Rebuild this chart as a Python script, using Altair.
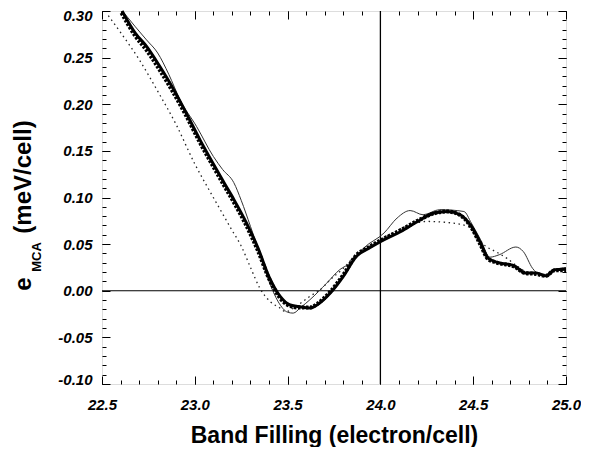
import altair as alt
import pandas as pd

# ---- data ----
thick_x = [22.608, 22.68, 22.74, 22.81, 22.88, 22.95, 23.03, 23.10, 23.16, 23.21, 23.28, 23.34,
           23.40, 23.46, 23.51, 23.56, 23.62, 23.66, 23.73, 23.80, 23.87, 23.94, 24.02, 24.11,
           24.20, 24.29, 24.36, 24.43, 24.49, 24.54, 24.58, 24.63, 24.72, 24.78, 24.84, 24.89,
           24.94, 25.0]
thick_y = [0.300, 0.276, 0.262, 0.241, 0.218, 0.192, 0.161, 0.136, 0.115, 0.098, 0.072, 0.046,
           0.015, -0.006, -0.015, -0.017, -0.0186, -0.015, -0.0025, 0.0154, 0.0368, 0.0458, 0.0547, 0.0636,
           0.0743, 0.0833, 0.085, 0.0815, 0.069, 0.051, 0.035, 0.0304, 0.0268, 0.019, 0.019, 0.016,
           0.0225, 0.023]

sq_x = [22.605, 22.68, 22.74, 22.81, 22.88, 22.95, 23.03, 23.10, 23.16, 23.21, 23.28, 23.34,
        23.40, 23.46, 23.51, 23.56, 23.62, 23.66, 23.73, 23.80, 23.87, 23.94, 24.02, 24.11,
        24.20, 24.29, 24.36, 24.43, 24.49, 24.54, 24.58, 24.63, 24.72, 24.78, 24.84, 24.89,
        24.94, 25.0]
sq_y = [0.298, 0.273, 0.258, 0.237, 0.214, 0.189, 0.158, 0.133, 0.112, 0.095, 0.069, 0.043,
        0.013, -0.008, -0.016, -0.018, -0.018, -0.014, -0.001, 0.017, 0.038, 0.047, 0.056, 0.065,
        0.075, 0.083, 0.085, 0.081, 0.068, 0.049, 0.034, 0.030, 0.026, 0.019, 0.018, 0.016,
        0.022, 0.022]

thin_x = [22.61, 22.68, 22.74, 22.80, 22.86, 22.92, 23.01, 23.10, 23.15, 23.21, 23.25, 23.30,
          23.35, 23.40, 23.45, 23.50, 23.53, 23.57, 23.62, 23.71, 23.78, 23.84, 23.91, 24.02,
          24.09, 24.16, 24.23, 24.32, 24.45, 24.49, 24.54, 24.59, 24.64, 24.73, 24.77, 24.82,
          24.86, 24.90, 24.95, 25.0]
thin_y = [0.300, 0.283, 0.269, 0.255, 0.232, 0.205, 0.176, 0.144, 0.130, 0.116, 0.097, 0.069,
          0.040, 0.010, -0.012, -0.023, -0.024, -0.018, -0.0097, 0.008, 0.0225, 0.030, 0.0458, 0.062,
          0.078, 0.086, 0.0815, 0.087, 0.085, 0.0726, 0.0547, 0.036, 0.0386, 0.0469, 0.042, 0.024,
          0.017, 0.0154, 0.023, 0.025]

dot_x = [22.534, 22.60, 22.70, 22.80, 22.90, 23.00, 23.08, 23.14, 23.20, 23.25, 23.30, 23.35,
         23.405, 23.46, 23.49, 23.55, 23.62, 23.675, 23.73, 23.80, 23.87, 23.94, 24.03, 24.14,
         24.25, 24.39, 24.47, 24.50, 24.55, 24.63, 24.68, 24.74, 24.79, 24.84, 24.89, 24.94, 25.0]
dot_y = [0.295, 0.277, 0.248, 0.214, 0.178, 0.136, 0.107, 0.086, 0.065, 0.048, 0.025, 0.003,
         -0.0115, -0.0186, -0.0225, -0.016, -0.006, 0.001, 0.0118, 0.024, 0.0386, 0.0475, 0.058, 0.069,
         0.0743, 0.0726, 0.069, 0.0654, 0.051, 0.041, 0.035, 0.026, 0.020, 0.019, 0.016, 0.022, 0.024]

x_major = [22.5, 23.0, 23.5, 24.0, 24.5, 25.0]
x_minor = [round(22.5 + 0.1 * i, 2) for i in range(26)]
y_major = [-0.10, -0.05, 0.00, 0.05, 0.10, 0.15, 0.20, 0.25, 0.30]
y_minor = [round(-0.10 + 0.01 * i, 2) for i in range(41)]
zero_line = [0.0]
fill_line = [24.0]

FONT = "Liberation Sans"
xs = alt.Scale(domain=[22.5, 25.0], nice=False, zero=False)
ys = alt.Scale(domain=[-0.10, 0.30], nice=False, zero=False)


def axis(orient, vals, size, labels=False, **kw):
    return alt.Axis(orient=orient, values=vals, tickSize=size, offset=-size, domain=False,
                    grid=False, labels=labels, tickColor="black", tickWidth=1, **kw)


lab = dict(labelFont=FONT, labelFontSize=15, labelFontWeight="bold",
           labelFontStyle="italic", labelColor="black")

x_bottom_major = axis("bottom", x_major, 8, True, labelPadding=13, format=".1f",
                      labelFlush=False, labelOverlap=False,
                      title="Band Filling (electron/cell)", titleFont=FONT, titleFontSize=23,
                      titleFontWeight="bold", titleColor="black", titlePadding=12, **lab)
y_left_major = axis("left", y_major, 8, True, labelPadding=10, title=None,
                    labelFlush=True, labelFlushOffset=3, labelOverlap=False,
                    labelExpr="(datum.value < 0 ? '-' : '') + format(abs(datum.value), '.2f')",
                    **lab)


def line_layer(xv, yv, xax, yax, **mk):
    df = pd.DataFrame({"x": xv, "y": yv})
    return alt.Chart(df).mark_line(interpolate="monotone", **mk).encode(
        x=alt.X("x:Q", scale=xs, axis=xax),
        y=alt.Y("y:Q", scale=ys, axis=yax),
    )


dotted = line_layer(dot_x, dot_y, axis("top", x_minor, 4, title=None),
                    axis("right", y_minor, 4, title=None),
                    color="#222222", strokeWidth=1.3, strokeDash=[1.5, 3.5])
thin = line_layer(thin_x, thin_y, axis("top", x_major, 8, title=None),
                  axis("right", y_major, 8, title=None),
                  color="#333333", strokeWidth=1)
squares = line_layer(sq_x, sq_y, axis("bottom", x_minor, 4, title=None),
                     axis("left", y_minor, 4, title=None),
                     color="black", strokeWidth=4, strokeDash=[2.5, 1.5])
thick = line_layer(thick_x, thick_y, x_bottom_major, y_left_major,
                   color="black", strokeWidth=3)

hrule = alt.Chart(pd.DataFrame({"y": zero_line})).mark_rule(color="black", strokeWidth=1).encode(
    y=alt.Y("y:Q", scale=ys, axis=None))
vrule = alt.Chart(pd.DataFrame({"x": fill_line})).mark_rule(color="black", strokeWidth=1.3).encode(
    x=alt.X("x:Q", scale=xs, axis=None))


def label(txt, px, py, size):
    return alt.Chart(pd.DataFrame({"t": [txt]})).mark_text(
        font=FONT, fontSize=size, fontWeight="bold", angle=270, align="center",
        baseline="middle", color="black").encode(
        text="t:N", x=alt.value(px), y=alt.value(py))


ytitle = (label("(meV/cell)", -78, 166, 24) + label("MCA", -65, 246, 13)
          + label("e", -78, 273, 24))

chart = alt.layer(hrule, vrule, dotted, thin, squares, thick, ytitle).resolve_axis(
    x="independent", y="independent"
).properties(
    width=464, height=373,
    autosize=alt.AutoSizeParams(type="none"),
    padding={"left": 94, "top": 3, "right": 15, "bottom": 63},
).configure_view(stroke="black", strokeWidth=1.2).configure(background="white")

chart.save("out.html", embed_options={"renderer": "svg", "actions": False})
